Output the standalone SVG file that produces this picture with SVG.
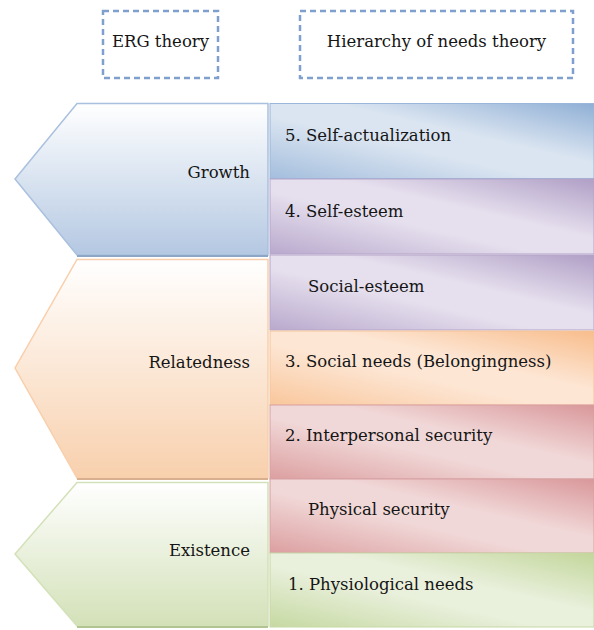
<svg xmlns="http://www.w3.org/2000/svg" width="594" height="630" viewBox="0 0 594 630">
<defs>
<linearGradient id="gBlueV" x1="0" y1="0" x2="0" y2="1"><stop offset="0" stop-color="#ffffff"/><stop offset="1" stop-color="#b4c8e2"/></linearGradient>
<linearGradient id="gPeachV" x1="0" y1="0" x2="0" y2="1"><stop offset="0" stop-color="#ffffff"/><stop offset="1" stop-color="#f8d0ad"/></linearGradient>
<linearGradient id="gGreenV" x1="0" y1="0" x2="0" y2="1"><stop offset="0" stop-color="#ffffff"/><stop offset="1" stop-color="#d3e1b8"/></linearGradient>
<linearGradient id="bBlue" x1="0" y1="1" x2="1" y2="0"><stop offset="0" stop-color="#a4bedd"/><stop offset="0.42" stop-color="#dbe5f1"/><stop offset="0.6" stop-color="#dbe5f1"/><stop offset="1" stop-color="#8fafd5"/></linearGradient>
<linearGradient id="bPurple" x1="0" y1="1" x2="1" y2="0"><stop offset="0" stop-color="#b9a9cd"/><stop offset="0.42" stop-color="#e6e0ee"/><stop offset="0.6" stop-color="#e6e0ee"/><stop offset="1" stop-color="#b09fc6"/></linearGradient>
<linearGradient id="bOrange" x1="0" y1="1" x2="1" y2="0"><stop offset="0" stop-color="#f9c79c"/><stop offset="0.42" stop-color="#fde6d4"/><stop offset="0.6" stop-color="#fde6d4"/><stop offset="1" stop-color="#f8bd8c"/></linearGradient>
<linearGradient id="bRed" x1="0" y1="1" x2="1" y2="0"><stop offset="0" stop-color="#dc9fa0"/><stop offset="0.42" stop-color="#f1d8d8"/><stop offset="0.6" stop-color="#f1d8d8"/><stop offset="1" stop-color="#d9979a"/></linearGradient>
<linearGradient id="bGreen" x1="0" y1="1" x2="1" y2="0"><stop offset="0" stop-color="#c6d9a2"/><stop offset="0.42" stop-color="#e9f0dc"/><stop offset="0.6" stop-color="#e9f0dc"/><stop offset="1" stop-color="#c3d69b"/></linearGradient>
</defs>
<style>
text{font-family:"DejaVu Serif","Liberation Serif",serif;font-size:16.5px;fill:#151515}
.dash{fill:#ffffff;stroke:#7fa0cf;stroke-width:2.5;stroke-dasharray:6,4}
.bar{stroke-width:1}
</style>
<g id="erg-theory">
<rect class="dash" x="103" y="11" width="115" height="67"/>
<text x="160.5" y="47" text-anchor="middle">ERG theory</text>
</g>
<g id="hierarchy-theory">
<rect class="dash" x="300" y="11" width="273" height="67"/>
<text x="436.5" y="47" text-anchor="middle">Hierarchy of needs theory</text>
</g>
<g id="growth">
<polygon points="77,103.5 268,103.5 268,255 77,255 15,179" fill="url(#gBlueV)" stroke="#a9c0de" stroke-width="1.5"/>
<line x1="77" y1="256" x2="268" y2="256" stroke="#8ea6c6" stroke-width="2"/>
<text x="250" y="178" text-anchor="end">Growth</text>
</g>
<g id="relatedness">
<polygon points="77,259.5 268,259.5 268,478 77,478 15,368" fill="url(#gPeachV)" stroke="#f8cfac" stroke-width="1.5"/>
<line x1="77" y1="479" x2="268" y2="479" stroke="#d9b08f" stroke-width="2"/>
<text x="250" y="368" text-anchor="end">Relatedness</text>
</g>
<g id="existence">
<polygon points="77,482.5 268,482.5 268,626 77,626 15,554" fill="url(#gGreenV)" stroke="#d3e1b8" stroke-width="1.5"/>
<line x1="77" y1="627" x2="268" y2="627" stroke="#b3c493" stroke-width="2"/>
<text x="250" y="556" text-anchor="end">Existence</text>
</g>
<g id="self-actualization">
<rect class="bar" x="270" y="103.5" width="324" height="75" fill="url(#bBlue)" stroke="#9ab6d8"/>
<text x="285" y="141">5. Self-actualization</text>
</g>
<g id="self-esteem">
<rect class="bar" x="270" y="179" width="324" height="75" fill="url(#bPurple)" stroke="#b5a5ca"/>
<text x="285" y="217">4. Self-esteem</text>
</g>
<g id="social-esteem">
<rect class="bar" x="270" y="255" width="324" height="75" fill="url(#bPurple)" stroke="#b5a5ca"/>
<text x="308" y="292">Social-esteem</text>
</g>
<g id="social-needs">
<rect class="bar" x="270" y="331" width="324" height="74" fill="url(#bOrange)" stroke="#f6c39a"/>
<text x="285" y="367">3. Social needs (Belongingness)</text>
</g>
<g id="interpersonal-security">
<rect class="bar" x="270" y="405" width="324" height="74" fill="url(#bRed)" stroke="#d7a0a1"/>
<text x="285" y="441">2. Interpersonal security</text>
</g>
<g id="physical-security">
<rect class="bar" x="270" y="479" width="324" height="74" fill="url(#bRed)" stroke="#d7a0a1"/>
<text x="308" y="515">Physical security</text>
</g>
<g id="physiological-needs">
<rect class="bar" x="270" y="553" width="324" height="74" fill="url(#bGreen)" stroke="#c6d8a6"/>
<text x="288" y="590">1. Physiological needs</text>
</g>
<g id="connectors"></g>
</svg>
